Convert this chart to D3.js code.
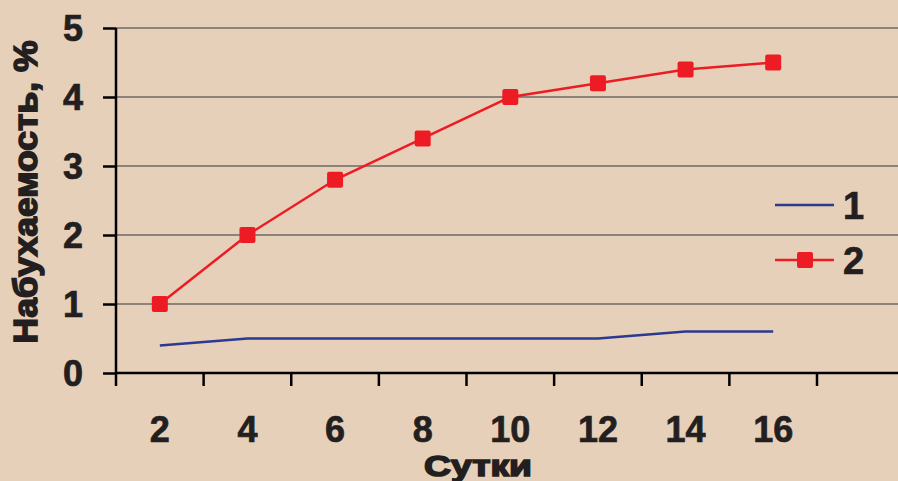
<!DOCTYPE html>
<html><head><meta charset="utf-8">
<script src="https://cdn.jsdelivr.net/npm/d3@7"></script>
<style>
html,body{margin:0;padding:0;background:#e7d0b9;overflow:hidden;}
svg{display:block;}
text{font-family:"Liberation Sans",Arial,sans-serif;font-weight:bold;fill:#231f20;}
</style></head>
<body>
<svg id="c" width="898" height="481"></svg>
<script>
const categories = ["2","4","6","8","10","12","14","16"];
const series1 = [0.4,0.5,0.5,0.5,0.5,0.5,0.6,0.6];
const series2 = [1,2,2.8,3.4,4,4.2,4.4,4.5];
const yTicks = [0,1,2,3,4,5];
const seriesNames = ["1","2"];
const yTitle = "Набухаемость, %";
const xTitle = "Сутки";

const svg = d3.select("#c");
const W = 898, H = 481;
svg.append("rect").attr("width",W).attr("height",H).attr("fill","#e7d0b9");

const x = d3.scaleBand().domain(categories).range([116, 817]).padding(0);
const y = d3.scaleLinear().domain([0,5]).range([373, 28]);
const plotRight = 898;

// gridlines
svg.append("g").selectAll("line").data(yTicks.filter(d=>d>0)).join("line")
  .attr("x1",116).attr("x2",plotRight)
  .attr("y1",d=>y(d)).attr("y2",d=>y(d))
  .attr("stroke","#6e6a66").attr("stroke-width",1.3);

// y axis
const yAx = svg.append("g").attr("transform","translate(116,0)")
  .call(d3.axisLeft(y).tickValues(yTicks).tickSize(13).tickPadding(20).tickFormat(d3.format("d")));
yAx.select(".domain").remove();
yAx.selectAll(".tick line").attr("stroke","#000").attr("stroke-width",2.5);
yAx.selectAll(".tick text").attr("font-size",36).attr("font-family","Liberation Sans, Arial, sans-serif")
  .attr("font-weight","bold").attr("fill","#231f20").attr("dy","0.36em")
  .attr("stroke","#231f20").attr("stroke-width",0.7);
svg.append("line").attr("x1",116).attr("x2",116).attr("y1",y(5)).attr("y2",y(0)+1)
  .attr("stroke","#000").attr("stroke-width",2.5);

// x axis line
svg.append("line").attr("x1",116).attr("x2",plotRight).attr("y1",y(0)).attr("y2",y(0))
  .attr("stroke","#000").attr("stroke-width",2.5);
// boundary tick marks
const bounds = d3.range(categories.length+2).map(i => x.range()[0] + i*x.step());
svg.append("g").selectAll("line").data(bounds).join("line")
  .attr("x1",d=>d).attr("x2",d=>d).attr("y1",y(0)).attr("y2",y(0)+13)
  .attr("stroke","#000").attr("stroke-width",2.5);
// x labels
const xAx = svg.append("g").attr("transform",`translate(0,${y(0)})`)
  .call(d3.axisBottom(x).tickSize(0).tickPadding(43));
xAx.select(".domain").remove();
xAx.selectAll(".tick text").attr("font-size",36).attr("font-family","Liberation Sans, Arial, sans-serif")
  .attr("font-weight","bold").attr("fill","#231f20")
  .attr("stroke","#231f20").attr("stroke-width",0.7);

// lines
const line = d3.line().x((d,i)=>x(categories[i])+x.bandwidth()/2).y(d=>y(d));
svg.append("path").datum(series1).attr("d",line).attr("fill","none")
  .attr("stroke","#2b3990").attr("stroke-width",2.5);
svg.append("path").datum(series2).attr("d",line).attr("fill","none")
  .attr("stroke","#ed1c24").attr("stroke-width",2.5);
const ms = 16;
svg.append("g").selectAll("rect").data(series2).join("rect")
  .attr("x",(d,i)=>x(categories[i])+x.bandwidth()/2-ms/2)
  .attr("y",d=>y(d)-ms/2).attr("width",ms).attr("height",ms).attr("rx",2)
  .attr("fill","#ed1c24");

// legend
const lg = svg.append("g");
lg.append("line").attr("x1",775).attr("x2",834).attr("y1",205).attr("y2",205)
  .attr("stroke","#2b3990").attr("stroke-width",2.5);
lg.append("line").attr("x1",775).attr("x2",834).attr("y1",260).attr("y2",260)
  .attr("stroke","#ed1c24").attr("stroke-width",2.5);
lg.append("rect").attr("x",805-ms/2).attr("y",260-ms/2).attr("width",ms).attr("height",ms).attr("rx",2).attr("fill","#ed1c24");
lg.selectAll("text").data(seriesNames).join("text")
  .attr("x",843).attr("y",(d,i)=>[219,274][i]).attr("font-size",38).text(d=>d)
  .attr("stroke","#231f20").attr("stroke-width",0.7);

// titles
svg.append("text").attr("x",478).attr("y",476).attr("text-anchor","middle")
  .attr("font-size",30).attr("font-weight",900)
  .attr("stroke","#231f20").attr("stroke-width",1.6)
  .attr("textLength",108).attr("lengthAdjust","spacingAndGlyphs").text(xTitle);
svg.append("text").attr("transform","translate(37,192) rotate(-90)").attr("text-anchor","middle")
  .attr("font-size",33).attr("font-weight",900)
  .attr("stroke","#231f20").attr("stroke-width",1.6)
  .attr("textLength",303).attr("lengthAdjust","spacingAndGlyphs").text(yTitle);
</script>
</body></html>
